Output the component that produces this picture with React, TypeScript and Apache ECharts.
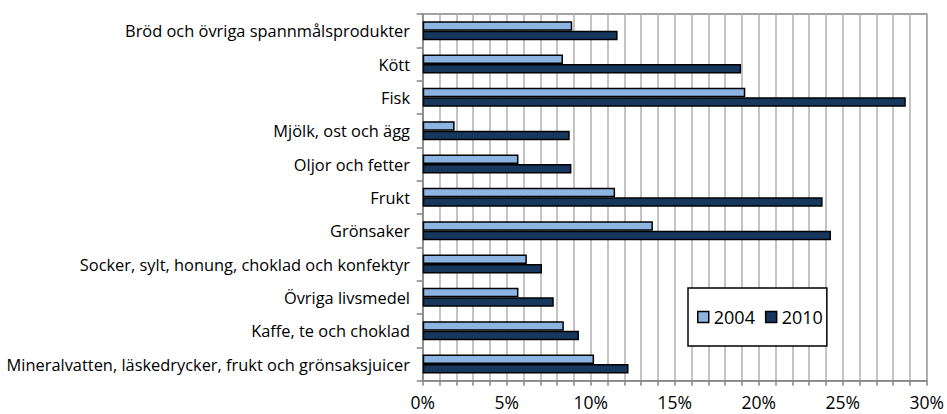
import React, { useEffect, useRef } from "react";
import * as echarts from "echarts";

const categories = [
  "Bröd och övriga spannmålsprodukter",
  "Kött",
  "Fisk",
  "Mjölk, ost och ägg",
  "Oljor och fetter",
  "Frukt",
  "Grönsaker",
  "Socker, sylt, honung, choklad och konfektyr",
  "Övriga livsmedel",
  "Kaffe, te och choklad",
  "Mineralvatten, läskedrycker, frukt och grönsaksjuicer",
];

const values2004 = [8.9, 8.35, 19.2, 1.9, 5.7, 11.45, 13.7, 6.2, 5.7, 8.4, 10.2];
const values2010 = [11.6, 18.95, 28.75, 8.75, 8.85, 23.8, 24.3, 7.1, 7.8, 9.3, 12.25];

const seriesNames = ["2004", "2010"];
const xTicks = { min: 0, max: 30, step: 1, labelStep: 5 };

const FONT = "'Open Sans', sans-serif";

export default function App() {
  const ref = useRef<HTMLDivElement>(null);

  useEffect(() => {
    if (!ref.current) return;
    const chart = echarts.init(ref.current, null, { renderer: "svg" });
    chart.setOption({
      animation: false,
      backgroundColor: "#ffffff",
      grid: {
        left: 422.7,
        right: 19.3,
        top: 14,
        bottom: 33.3,
        show: true,
        borderColor: "#868686",
        borderWidth: 1.5,
        backgroundColor: "transparent",
      },
      legend: {
        data: seriesNames,
        left: 688,
        top: 288,
        orient: "horizontal",
        backgroundColor: "#ffffff",
        borderColor: "#000000",
        borderWidth: 1.5,
        borderRadius: 0,
        padding: [20, 4, 20, 9],
        itemWidth: 11,
        itemHeight: 11,
        itemGap: 10,
        textStyle: { fontFamily: FONT, fontSize: 18, color: "#000000" },
        itemStyle: { borderColor: "#000000", borderWidth: 1.5 },
        icon: "rect",
      },
      xAxis: {
        type: "value",
        min: xTicks.min,
        max: xTicks.max,
        interval: xTicks.step,
        axisLine: { show: true, lineStyle: { color: "#868686", width: 1.5 } },
        axisTick: { show: true, length: 5, lineStyle: { color: "#868686", width: 1.5 } },
        splitLine: { show: true, lineStyle: { color: "#B0B0B0", width: 1.5 } },
        axisLabel: {
          margin: 12,
          fontFamily: FONT,
          fontSize: 17.5,
          lineHeight: 18,
          color: "#000000",
          formatter: (v: number) => (v % xTicks.labelStep === 0 ? `${v}%` : ""),
        },
      },
      yAxis: {
        type: "category",
        data: categories,
        inverse: true,
        axisLine: { show: true, lineStyle: { color: "#868686", width: 1.5 } },
        axisTick: { show: true, length: 6, lineStyle: { color: "#868686", width: 1.5 } },
        splitLine: { show: false },
        axisLabel: {
          margin: 12.7,
          fontFamily: FONT,
          fontSize: 16.4,
          color: "#000000",
        },
      },
      series: [
        {
          name: seriesNames[0],
          type: "bar",
          data: values2004,
          barWidth: 9.5,
          barGap: "0%",
          itemStyle: { color: "#8DB4E2", borderColor: "#000000", borderWidth: 1.5 },
        },
        {
          name: seriesNames[1],
          type: "bar",
          data: values2010,
          barWidth: 9.5,
          barGap: "0%",
          itemStyle: { color: "#17375E", borderColor: "#000000", borderWidth: 1.5 },
        },
      ],
    });
    return () => chart.dispose();
  }, []);

  return (
    <div
      ref={ref}
      style={{ position: "absolute", left: 0, top: 0, width: 947, height: 414 }}
    />
  );
}
